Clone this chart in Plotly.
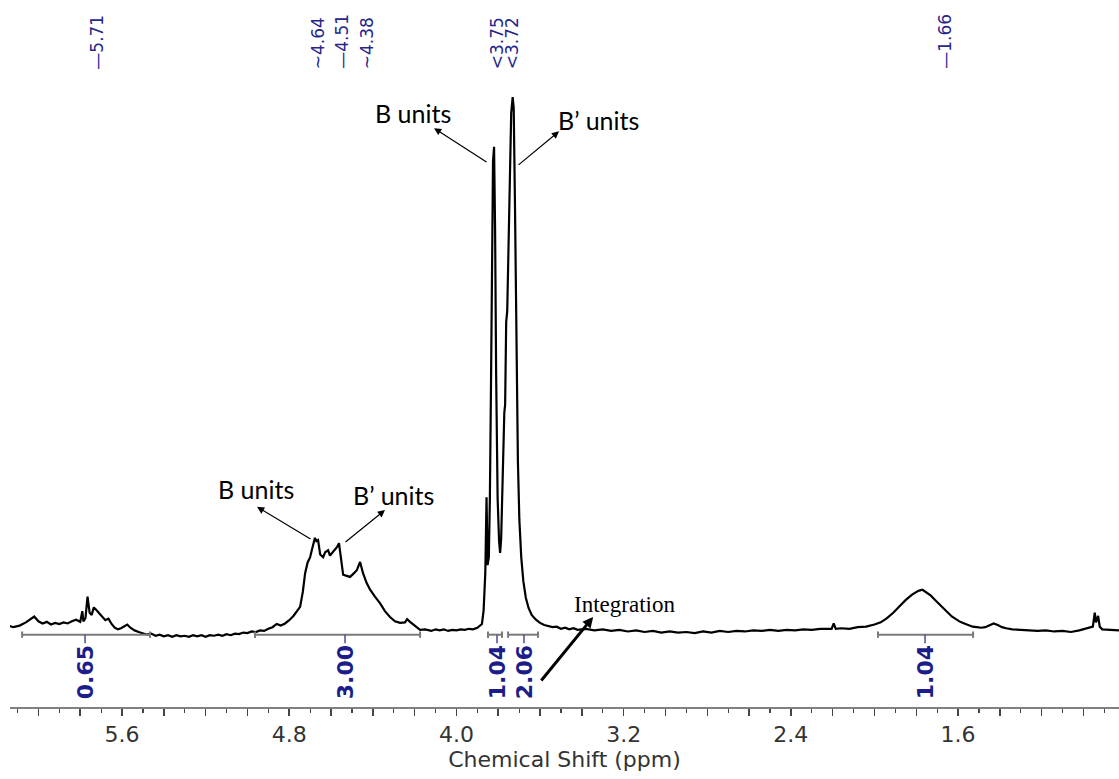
import plotly.graph_objects as go

# ---------------- data ----------------
shift_ppm = [
    6.18, 6.15, 6.12, 6.09, 6.06, 6.04, 6.02, 6.00, 5.98, 5.96,
    5.94, 5.92, 5.90, 5.88, 5.86, 5.84, 5.82, 5.80, 5.79, 5.785,
    5.775, 5.765, 5.755, 5.745, 5.735, 5.725, 5.71, 5.695, 5.68, 5.665,
    5.65, 5.635, 5.62, 5.605, 5.59, 5.575, 5.56, 5.54, 5.52, 5.50,
    5.48, 5.46, 5.44, 5.42, 5.40, 5.38, 5.36, 5.34, 5.32, 5.30,
    5.28, 5.26, 5.24, 5.22, 5.20, 5.18, 5.16, 5.14, 5.12, 5.10,
    5.08, 5.06, 5.04, 5.02, 5.00, 4.98, 4.96, 4.94, 4.92, 4.90,
    4.88, 4.86, 4.84, 4.82, 4.80, 4.78, 4.765, 4.748, 4.735, 4.724,
    4.712, 4.700, 4.690, 4.682, 4.677, 4.670, 4.662, 4.652, 4.638, 4.628,
    4.614, 4.605, 4.595, 4.584, 4.571, 4.562, 4.552, 4.542, 4.525, 4.509,
    4.490, 4.476, 4.461, 4.447, 4.430, 4.413, 4.39, 4.366, 4.342, 4.318,
    4.294, 4.270, 4.246, 4.236, 4.222, 4.20, 4.174, 4.15, 4.12, 4.10,
    4.08, 4.06, 4.04, 4.02, 4.00, 3.98, 3.96, 3.94, 3.92, 3.90,
    3.885, 3.878, 3.870, 3.862, 3.856, 3.851, 3.845, 3.840, 3.835, 3.830,
    3.825, 3.820, 3.815, 3.810, 3.803, 3.796, 3.791, 3.786, 3.781, 3.776,
    3.771, 3.767, 3.762, 3.757, 3.752, 3.745, 3.738, 3.731, 3.726, 3.720,
    3.713, 3.706, 3.699, 3.690, 3.680, 3.668, 3.655, 3.640, 3.620, 3.600,
    3.58, 3.56, 3.54, 3.52, 3.50, 3.48, 3.46, 3.44, 3.42, 3.38,
    3.34, 3.30, 3.26, 3.22, 3.18, 3.14, 3.10, 3.06, 3.02, 2.98,
    2.94, 2.90, 2.86, 2.82, 2.78, 2.74, 2.70, 2.66, 2.62, 2.58,
    2.54, 2.50, 2.46, 2.42, 2.38, 2.34, 2.30, 2.26, 2.22, 2.205,
    2.195, 2.185, 2.16, 2.12, 2.08, 2.04, 2.00, 1.97, 1.94, 1.91,
    1.88, 1.85, 1.82, 1.79, 1.77, 1.75, 1.73, 1.71, 1.69, 1.67,
    1.65, 1.63, 1.61, 1.59, 1.57, 1.55, 1.53, 1.51, 1.49, 1.47,
    1.45, 1.43, 1.41, 1.39, 1.37, 1.34, 1.30, 1.26, 1.22, 1.18,
    1.14, 1.10, 1.06, 1.02, 1.00, 0.975, 0.955, 0.946, 0.940, 0.930,
    0.922, 0.91, 0.88, 0.85, 0.83,
]
intensity = [
    1.0, 1.3, 0.9, 1.2, 1.8, 2.4, 2.9, 2.0, 1.6, 1.9,
    1.4, 1.7, 1.5, 1.8, 1.6, 2.0, 2.3, 1.9, 3.9, 2.0,
    2.6, 6.6, 3.6, 3.2, 4.6, 4.2, 3.5, 2.9, 2.2, 2.5,
    1.5, 0.8, 0.5, 0.7, 1.0, 1.4, 0.8, 0.3, 0.0, -0.3,
    -0.5, -0.3, -0.7, -0.5, -0.8, -0.6, -0.9, -0.6, -0.8, -0.7,
    -0.9, -0.6, -0.8, -0.6, -0.9, -0.6, -0.7, -0.5, -0.7, -0.4,
    -0.6, -0.3, -0.4, -0.1, -0.2, 0.1, 0.0, 0.3, 0.2, 0.6,
    0.9, 1.5, 1.2, 1.6, 2.2, 3.0, 3.8, 4.7, 7.5, 11.0,
    13.0, 14.0, 15.6, 16.6, 17.6, 17.0, 17.2, 14.5, 14.0, 14.9,
    15.3, 14.3, 14.8, 15.2, 15.9, 16.6, 14.0, 10.7, 10.5, 10.3,
    11.0, 11.6, 13.1, 11.0, 9.2, 7.9, 6.6, 5.4, 3.9, 2.8,
    2.0, 1.7, 1.8, 2.4, 1.9, 1.2, 0.4, 0.5, 0.2, 0.5,
    0.3, 0.5, 0.2, 0.4, 0.3, 0.5, 0.4, 0.6, 0.5, 0.8,
    1.2, 1.5, 4.0, 11.0, 25.2, 12.5, 14.0, 25.0, 45.0, 70.0,
    88.0, 90.7, 75.0, 48.0, 25.0, 17.0, 14.8, 17.5, 26.0, 36.0,
    41.0, 42.5, 58.0, 60.0, 72.0, 88.0, 97.0, 100.0, 98.0, 80.0,
    52.0, 32.0, 21.0, 14.0, 9.5, 6.4, 4.5, 3.2, 2.3, 1.7,
    1.3, 1.1, 0.9, 1.0, 0.6, 0.8, 0.5, 0.7, 0.4, 0.6,
    0.3, 0.5, 0.2, 0.4, 0.1, 0.3, 0.0, 0.2, -0.1, 0.1,
    -0.1, 0.0, -0.2, 0.1, -0.1, 0.2, 0.0, 0.2, 0.1, 0.3,
    0.2, 0.4, 0.2, 0.4, 0.3, 0.5, 0.4, 0.6, 0.5, 0.6,
    1.6, 0.6, 0.7, 0.6, 0.9, 1.0, 1.4, 1.8, 2.6, 3.6,
    4.8, 6.0, 7.0, 7.7, 7.9, 7.4, 6.8, 6.0, 5.2, 4.3,
    3.5, 2.9, 2.4, 1.9, 1.6, 1.3, 1.0, 0.9, 0.8, 0.9,
    1.3, 1.6, 1.3, 0.9, 0.7, 0.5, 0.4, 0.3, 0.2, 0.3,
    0.1, 0.2, 0.0, 0.3, 0.5, 0.8, 1.0, 3.6, 1.8, 3.0,
    1.0, 0.5, 0.4, 0.3, 0.3,
]

peak_labels = ["5.71", "4.64", "4.51", "4.38", "3.75", "3.72", "1.66"]
peak_leaders = ["\u2014", "~", "\u2014", "~", "<", "<", "\u2014"]
peak_label_ppm = [5.720, 4.662, 4.547, 4.428, 3.806, 3.734, 1.662]

integral_values = ["0.65", "3.00", "1.04", "2.06", "1.04"]
integral_start = [6.078, 4.964, 3.849, 3.753, 1.983]
integral_end = [5.466, 4.174, 3.782, 3.610, 1.528]
integral_label_ppm = [5.777, 4.533, 3.806, 3.677, 1.758]

major_ticks = [6.0, 5.8, 5.6, 5.4, 5.2, 5.0, 4.8, 4.6, 4.4, 4.2, 4.0, 3.8, 3.6,
               3.4, 3.2, 3.0, 2.8, 2.6, 2.4, 2.2, 2.0, 1.8, 1.6, 1.4, 1.2, 1.0]
labelled_ticks = {5.6: "5.6", 4.8: "4.8", 4.0: "4.0", 3.2: "3.2", 2.4: "2.4", 1.6: "1.6"}
minor_ticks = [6.1, 5.9, 5.7, 5.5, 5.3, 5.1, 4.9, 4.7, 4.5, 4.3, 4.1, 3.9, 3.7,
               3.5, 3.3, 3.1, 2.9, 2.7, 2.5, 2.3, 2.1, 1.9, 1.7, 1.5, 1.3, 1.1, 0.9]

# ---------------- figure ----------------
assert len(shift_ppm) == len(intensity)

fig = go.Figure()

fig.add_trace(go.Scatter(
    x=shift_ppm, y=intensity, mode="lines",
    line=dict(color="#000000", width=2.2),
    hoverinfo="skip", showlegend=False,
))

BAR_Y = -0.5
END_H = 0.6
LABEL_TOP = -2.1
bar_x, bar_y, tick_x, tick_y = [], [], [], []
for s, e, lp in zip(integral_start, integral_end, integral_label_ppm):
    bar_x += [s, e, None, s, s, None, e, e, None]
    bar_y += [BAR_Y, BAR_Y, None, BAR_Y - END_H, BAR_Y + END_H, None,
              BAR_Y - END_H, BAR_Y + END_H, None]
    tick_x += [lp, lp, None]
    tick_y += [BAR_Y, LABEL_TOP, None]

fig.add_trace(go.Scatter(x=bar_x, y=bar_y, mode="lines",
                         line=dict(color="#7a7a7a", width=2),
                         hoverinfo="skip", showlegend=False))
fig.add_trace(go.Scatter(x=tick_x, y=tick_y, mode="lines",
                         line=dict(color="#4a4a9a", width=1.5),
                         hoverinfo="skip", showlegend=False))

annotations = []
for val, lp in zip(integral_values, integral_label_ppm):
    annotations.append(dict(
        x=lp, y=LABEL_TOP, xref="x", yref="y", text="<b>%s</b>" % val,
        textangle=-90, showarrow=False, xanchor="center", yanchor="top",
        font=dict(family="DejaVu Sans", size=22, color="#1c1c8a"),
    ))

for lab, lead, lp in zip(peak_labels, peak_leaders, peak_label_ppm):
    annotations.append(dict(
        x=lp, y=1.014, xref="x", yref="paper", text=lead + lab,
        textangle=-90, showarrow=False, xanchor="center", yanchor="bottom",
        font=dict(family="DejaVu Sans", size=17, color="#26268c"),
    ))

label_font = dict(family="Lato", size=25, color="#000000")
texts = [
    ("B units", 4.208, 97.0),
    ("B\u2019 units", 3.322, 95.7),
    ("B units", 4.959, 26.7),
    ("B\u2019 units", 4.303, 25.6),
]
for t, x, y in texts:
    annotations.append(dict(x=x, y=y, xref="x", yref="y", text=t,
                            showarrow=False, font=label_font))

arrows = [
    (3.849, 87.7, 4.107, 94.2, 1.2, 1.2),
    (3.710, 87.1, 3.509, 93.6, 1.2, 1.2),
    (4.691, 17.2, 4.954, 23.4, 1.2, 1.2),
    (4.538, 16.6, 4.342, 22.8, 1.2, 1.2),
    (3.600, -9.35, 3.346, 2.8, 3.0, 0.7),
]
for tx, ty, hx, hy, w, sz in arrows:
    annotations.append(dict(
        x=hx, y=hy, ax=tx, ay=ty, xref="x", yref="y", axref="x", ayref="y",
        text="", showarrow=True, arrowhead=2, arrowsize=sz, arrowwidth=w,
        arrowcolor="#000000",
    ))

annotations.append(dict(
    x=3.198, y=5.2, xref="x", yref="y", text="Integration", showarrow=False,
    font=dict(family="Liberation Serif", size=23, color="#000000"),
))

fig.update_layout(
    template="none",
    width=1119, height=779,
    margin=dict(l=10, r=0, t=80, b=72),
    paper_bgcolor="white", plot_bgcolor="white",
    showlegend=False,
    annotations=annotations,
    xaxis=dict(
        range=[6.136, 0.830],
        showgrid=False, zeroline=False, automargin=False,
        showline=True, linecolor="#808080", linewidth=2,
        ticks="outside", ticklen=7, tickwidth=1.5, tickcolor="#444444",
        tickmode="array", tickvals=major_ticks,
        ticktext=[labelled_ticks.get(v, "") for v in major_ticks],
        tickfont=dict(family="DejaVu Sans", size=22, color="#333333"),
        minor=dict(tickmode="array", tickvals=minor_ticks, ticks="outside",
                   ticklen=4, tickwidth=1.2, tickcolor="#444444", showgrid=False),
        title=dict(text="Chemical Shift (ppm)", standoff=0,
                   font=dict(family="DejaVu Sans", size=22, color="#333333")),
    ),
    yaxis=dict(range=[-14.02, 103.2], visible=False, showgrid=False,
               zeroline=False, automargin=False),
)

fig.write_html("out.html",
               config={"displayModeBar": False, "staticPlot": True},
               post_script="document.body.style.margin='0px';document.body.style.overflow='hidden';")
